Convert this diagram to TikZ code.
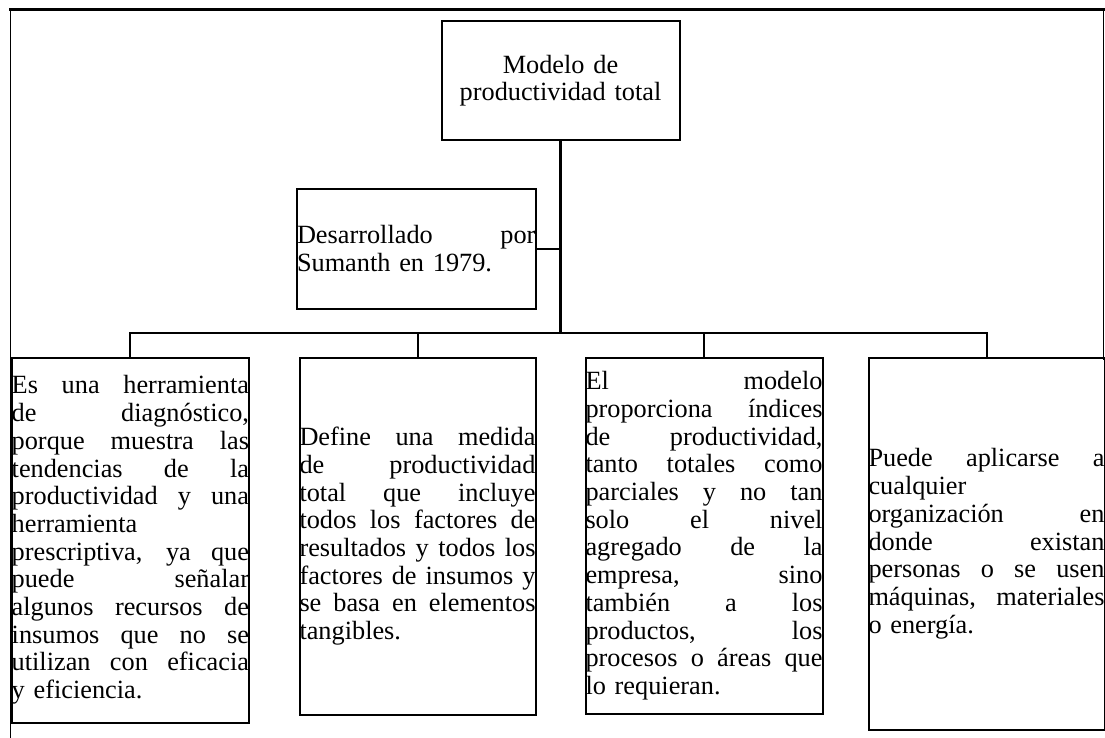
\documentclass[tikz,border=0pt]{standalone}
\usepackage{fontspec}
\setmainfont{Liberation Serif}
% one justified line (spaces stretch to the full width) and one flush-left line
\newcommand\jl[1]{\noindent\hbox to\hsize{\spaceskip=.25em plus 1fill\relax #1}\par}
\newcommand\lf[1]{\noindent\hbox to\hsize{#1\hfil}\par}
\begin{document}
\begin{tikzpicture}[x=1pt,y=-1pt,
  txt/.style={font=\fontsize{26.3}{27.7}\selectfont},
  box/.style={draw, line width=2pt, inner sep=0pt, anchor=north west, txt},
  wire/.style={line width=2pt},
  trunk/.style={line width=3.4pt},
  frame/.style={line width=1.5pt}]
\useasboundingbox (0,0) rectangle (1105,738);

% surrounding frame, open at the bottom
\draw[frame] (10.7,745) -- (10.7,9.5) -- (1103.5,9.5) -- (1103.5,360);
\draw[line width=3pt] (9.4,9.5) -- (1104.8,9.5);

% top node and side note
\node[box, text width=238pt, minimum height=119.5pt, align=center]
  (T) at (440.5,20) {Modelo de\\productividad total};
\node[box, text width=238.5pt, minimum height=119.5pt]
  (D) at (296,188) {\jl{Desarrollado por}\lf{Sumanth en 1979.}};

% four description boxes
\node[box, text width=237.3pt, minimum height=365pt] (B1) at (10.7,356.5) {%
  \jl{Es una herramienta}\jl{de diagnóstico,}\jl{porque muestra las}%
  \jl{tendencias de la}\jl{productividad y una}\lf{herramienta}%
  \jl{prescriptiva, ya que}\jl{puede señalar}\jl{algunos recursos de}%
  \jl{insumos que no se}\jl{utilizan con eficacia}\lf{y eficiencia.}};
\node[box, text width=236pt, minimum height=357.5pt] (B2) at (298.5,356.5) {%
  \jl{Define una medida}\jl{de productividad}\jl{total que incluye}%
  \jl{todos los factores de}\jl{resultados y todos los}%
  \jl{factores de insumos y}\jl{se basa en elementos}\lf{tangibles.}};
\node[box, text width=237pt, minimum height=356.5pt] (B3) at (584.5,356.5) {%
  \jl{El modelo}\jl{proporciona índices}\jl{de productividad,}%
  \jl{tanto totales como}\jl{parciales y no tan}\jl{solo el nivel}%
  \jl{agregado de la}\jl{empresa, sino}\jl{también a los}%
  \jl{productos, los}\jl{procesos o áreas que}\lf{lo requieran.}};
\node[box, text width=236pt, minimum height=372.5pt] (B4) at (867.5,356.5) {%
  \jl{Puede aplicarse a}\lf{cualquier}\jl{organización en}%
  \jl{donde existan}\jl{personas o se usen}\jl{máquinas, materiales}%
  \lf{o energía.}};

% connectors
\coordinate (bus) at (0,332.5);
\draw[trunk] (T.south) -- (T.south |- bus);
\draw[wire] (D.east) -- (D.east -| T.south);
\draw[wire] (B1.north) -- (B1.north |- bus) -- (B4.north |- bus) -- (B4.north);
\draw[wire] (B2.north) -- (B2.north |- bus);
\draw[wire] (B3.north) -- (B3.north |- bus);
\end{tikzpicture}
\end{document}
